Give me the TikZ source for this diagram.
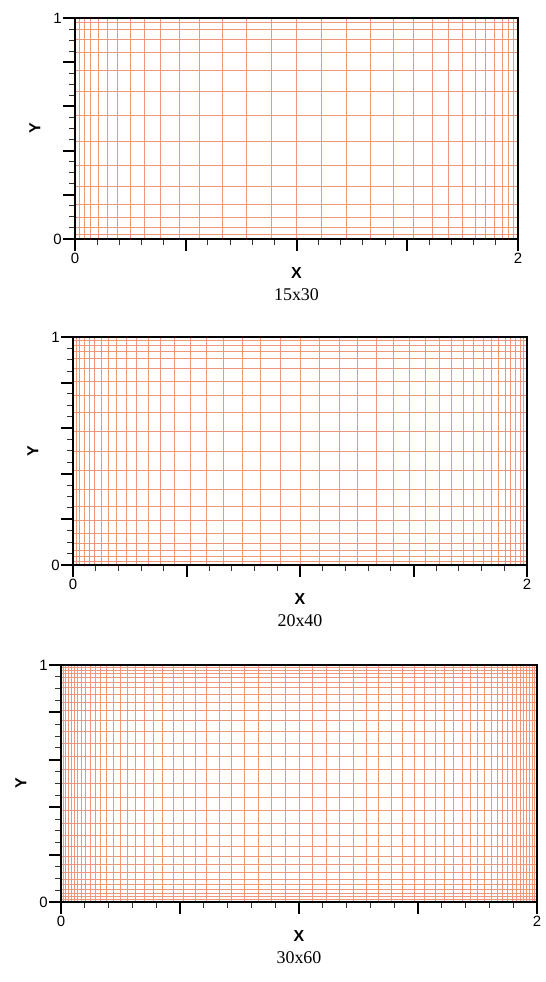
\documentclass[tikz,border=0pt]{standalone}
\usepackage{fontspec}
\setmainfont{Liberation Serif}
\setsansfont{Liberation Sans}
\usepackage{tikz}
\usetikzlibrary{calc,fit}
\definecolor{meshred}{RGB}{240,150,122}
\tikzset{
  frame/.style={draw=black, line width=2bp},
  meshline/.style={draw=meshred, line width=1bp},
  majortick/.style={draw=black, line width=2bp},
  minortick/.style={draw=black!80, line width=1bp},
  ticklabel/.style={font=\sffamily\fontsize{15}{15}\selectfont, inner sep=1pt},
  axislabel/.style={font=\sffamily\bfseries\fontsize{16}{16}\selectfont, inner sep=0pt},
  caption/.style={font=\fontsize{18}{18}\selectfont, inner sep=0pt}
}

% one mesh panel: #1 name, #2 left, #3 top, #4 right, #5 bottom, #6 cells in y, #7 caption
\newcommand{\meshpanel}[7]{%
  \pgfmathtruncatemacro{\ncx}{2*#6}
  \pgfmathtruncatemacro{\nlx}{2*#6-1}
  \pgfmathtruncatemacro{\nly}{#6-1}
  % grid lines, clustered to the walls, put on whole pixels
  \foreach \i in {1,...,\nlx} {
    \pgfmathsetmacro{\px}{floor(#2+(#4-#2)*0.5*(1+tanh(1.6*(2*\i/\ncx-1))/tanh(1.6)))+0.5}
    \draw[meshline] (\px,-#5) -- (\px,-#3);
  }
  \foreach \j in {1,...,\nly} {
    \pgfmathsetmacro{\py}{floor(#5-(#5-#3)*0.5*(1+tanh(1.6*(2*\j/#6-1))/tanh(1.6)))+0.5}
    \draw[meshline] (#2,-\py) -- (#4,-\py);
  }
  % ticks
  \foreach \t in {0.05,0.1,...,0.96} {
    \pgfmathsetmacro{\py}{floor(#5-(#5-#3)*\t)+0.5}
    \draw[minortick] (#2-6,-\py) -- (#2,-\py);
  }
  \foreach \t in {0,0.2,...,1.01} {
    \pgfmathsetmacro{\py}{round(#5-(#5-#3)*\t)}
    \draw[majortick] (#2-12,-\py) -- (#2,-\py);
  }
  \foreach \t in {0.1,0.2,...,1.91} {
    \pgfmathsetmacro{\px}{floor(#2+(#4-#2)*\t/2)+0.5}
    \draw[minortick] (\px,-#5) -- (\px,-#5-6);
  }
  \foreach \t in {0,0.5,...,2.01} {
    \pgfmathsetmacro{\px}{round(#2+(#4-#2)*\t/2)}
    \draw[majortick] (\px,-#5) -- (\px,-#5-12);
  }
  \node[frame, inner sep=0pt, fit=(#1sw)(#1ne)] (#1box) {};
  % labels
  \node[ticklabel, anchor=east] (#1yone) at ($(#1sw|-#1ne)+(-12,0)$) {1};
  \node[ticklabel, anchor=east] (#1yzero) at ($(#1sw)+(-12,0)$) {0};
  \node[ticklabel, anchor=north] (#1xzero) at ($(#1sw)+(0,-13)$) {0};
  \node[ticklabel, anchor=north] (#1xtwo) at ($(#1sw-|#1ne)+(0,-13)$) {2};
  \node[axislabel] (#1xlab) at ($($(#1sw)!0.5!(#1sw-|#1ne)$)+(0,-34)$) {X};
  \node[axislabel, rotate=90] (#1ylab) at ($($(#1sw)!0.5!(#1sw|-#1ne)$)+(-40,0)$) {Y};
  \node[caption] (#1cap) at ($($(#1sw)!0.5!(#1sw-|#1ne)$)+(0,-56)$) {#7};
}

\begin{document}
\begin{tikzpicture}[x=1bp, y=1bp]
\useasboundingbox (0,0) rectangle (546,-982);

\coordinate (coarsesw) at (75,-239);
\coordinate (coarsene) at (518,-18);
\meshpanel{coarse}{75}{18}{518}{239}{15}{15x30}

\coordinate (mediumsw) at (73,-565);
\coordinate (mediumne) at (527,-337);
\meshpanel{medium}{73}{337}{527}{565}{20}{20x40}

\coordinate (finesw) at (61,-902);
\coordinate (finene) at (537,-665);
\meshpanel{fine}{61}{665}{537}{902}{30}{30x60}
\end{tikzpicture}
\end{document}
